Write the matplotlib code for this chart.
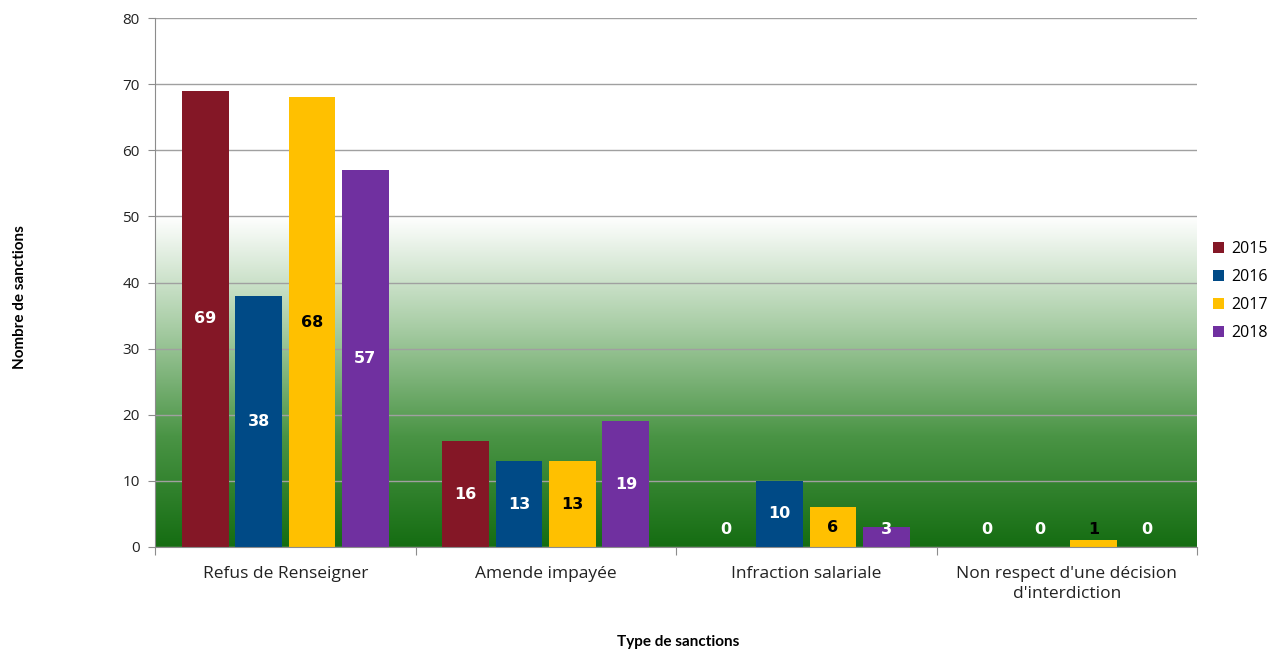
import numpy as np
import matplotlib.pyplot as plt
from matplotlib.colors import LinearSegmentedColormap

# Sanctions per type and year
categories = ["Refus de Renseigner", "Amende impayée", "Infraction salariale",
              "Non respect d'une décision\nd'interdiction"]
years = ["2015", "2016", "2017", "2018"]
v2015 = [69, 16, 0, 0]
v2016 = [38, 13, 10, 0]
v2017 = [68, 13, 6, 1]
v2018 = [57, 19, 3, 0]
series = [v2015, v2016, v2017, v2018]

colors = ["#841726", "#004a86", "#ffc000", "#7030a0"]
label_colors = ["white", "white", "black", "white"]

fig = plt.figure(figsize=(12.79, 6.5), dpi=100)
ax = fig.add_axes([155/1279, 1-547/650, (1197-155)/1279, (547-18)/650])

ax.set_xlim(-0.5, len(categories) - 0.5)
ax.set_ylim(0, 80)

# green gradient behind the lower part of the plot
grad = LinearSegmentedColormap.from_list("g", ["#156d12", "#4a9445", "#a8cda5", "#ffffff"])
ramp = np.linspace(0, 1, 256).reshape(-1, 1)
ax.imshow(ramp, cmap=grad, aspect="auto", origin="lower",
          extent=[-0.5, len(categories) - 0.5, 0, 50], zorder=0)

ax.set_yticks(range(0, 81, 10))
ax.grid(axis="y", color="#a0a0a0", linewidth=1, zorder=1)
ax.set_axisbelow(True)

x = np.arange(len(categories))
width = 0.18
step = 0.205
for i, (vals, c, lc, yr) in enumerate(zip(series, colors, label_colors, years)):
    xs = x + (i - 1.5) * step
    ax.bar(xs, vals, width=width, color=c, label=yr, zorder=2)
    for xi, v in zip(xs, vals):
        ax.text(xi, max(v / 2, 2.6), str(v), ha="center", va="center",
                color=lc, fontsize=11.5, fontweight="bold",
                family="DejaVu Sans", zorder=3)

for s in ["top", "right"]:
    ax.spines[s].set_visible(False)
for s in ["left", "bottom"]:
    ax.spines[s].set_color("#8c8c8c")

ax.tick_params(axis="y", length=5, color="#8c8c8c", labelsize=11, pad=6)
ax.set_xticks(np.arange(-0.5, len(categories), 1))
ax.set_xticks(x, minor=True)
ax.set_xticklabels([])
ax.set_xticklabels(categories, minor=True, fontsize=12.5, linespacing=1.3)
ax.tick_params(axis="x", which="major", length=6, color="#8c8c8c")
ax.tick_params(axis="x", which="minor", length=0, pad=14)
for t in ax.get_yticklabels() + ax.get_xticklabels(minor=True):
    t.set_family("Open Sans")
    t.set_color("#222222")

fig.text(20/1279, 1-297/650, "Nombre de sanctions", rotation=90, ha="center",
         va="center", fontsize=11, fontweight="bold", family="Lato")
fig.text(678/1279, 1-642/650, "Type de sanctions", ha="center", va="center",
         fontsize=11, fontweight="bold", family="Lato")

leg = fig.legend(loc="center left", bbox_to_anchor=(1199/1279, 1-291/650),
                 frameon=False, fontsize=11.5, handlelength=0.65, handleheight=0.65,
                 handletextpad=0.5, labelspacing=0.75)
for t in leg.get_texts():
    t.set_family("Open Sans")

fig.savefig("out.png", dpi=100)
